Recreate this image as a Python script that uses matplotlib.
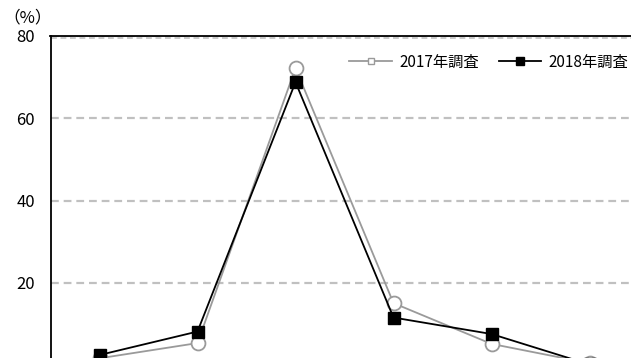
import numpy as np
import matplotlib
matplotlib.use('Agg')
import matplotlib.pyplot as plt
from matplotlib.lines import Line2D

plt.rcParams['font.family'] = ['Noto Sans CJK JP', 'DejaVu Sans']

# values (x labels are cut off in the reference)
categories = ['1', '2', '3', '4', '5', '6']
survey_2017 = [1.7, 5.4, 72.2, 15.1, 5.2, 0.5]
survey_2018 = [2.5, 8.2, 68.8, 11.6, 7.6, 0.2]
yticks = [20, 40, 60, 80]
labels = ['2017年調査', '2018年調査']

W, H = 631, 358
fig = plt.figure(figsize=(W / 100, H / 100), dpi=100)
# plot area runs past the right and bottom edges, like the cropped reference
left, right, top, bottom = 50.5, 638.5, 36.0, 365.3
ax = fig.add_axes([left / W, 1 - bottom / H, (right - left) / W, (bottom - top) / H])

x = np.arange(len(categories))
ax.plot(x, survey_2017, color='#9a9a9a', lw=1.3, marker='o', ms=10,
        mfc='white', mec='#9a9a9a', mew=1.3, zorder=3, clip_on=False)
ax.plot(x, survey_2018, color='black', lw=1.3, marker='s', ms=9,
        mfc='black', mec='black', zorder=4, clip_on=False)

ax.set_xlim(-0.5, len(categories) - 0.5)
ax.set_ylim(0, 80)
ax.set_yticks(yticks)
ax.set_yticklabels([str(v) for v in yticks], fontsize=12)
ax.tick_params(axis='y', length=0, pad=11)
ax.set_xticks([])
ax.yaxis.grid(True, color='#c0c0c0', lw=1.6, ls=(0, (3.5, 2.2)))
ax.set_axisbelow(True)
for s in ['left', 'top']:
    ax.spines[s].set_color('black')
    ax.spines[s].set_linewidth(1.3)
ax.spines['right'].set_visible(False)
ax.spines['bottom'].set_visible(False)
# dashed 80 line peeking just under the top frame
ax.axhline(79.6, color='#c0c0c0', lw=1.2, ls=(0, (3.5, 2.2)), zorder=1)

fig.text(3 / W, 1 - 18 / H, '（%）', fontsize=12, va='center', ha='left')

handles = [
    Line2D([], [], color='#9a9a9a', lw=1.3, marker='s', ms=5, mfc='white', mec='#9a9a9a'),
    Line2D([], [], color='black', lw=1.3, marker='s', ms=6, mfc='black', mec='black'),
]
fig.legend(handles, labels, loc='center right', bbox_to_anchor=(628 / W, 1 - 62 / H),
           ncol=2, frameon=False, fontsize=11, handlelength=2.8,
           handletextpad=0.45, columnspacing=1.3, borderpad=0, borderaxespad=0)

fig.savefig('out.png', dpi=100)
